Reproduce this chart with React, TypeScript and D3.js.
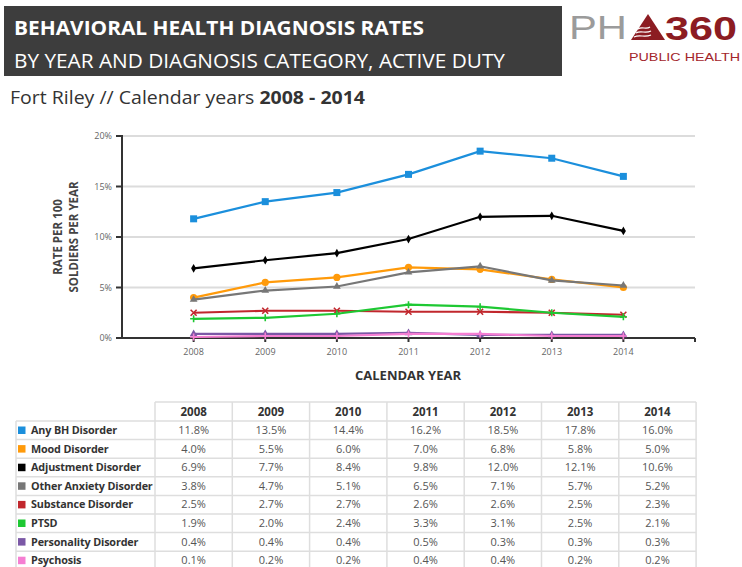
import * as d3 from 'd3';

const years = [2008, 2009, 2010, 2011, 2012, 2013, 2014];
const categories = [
  'Any BH Disorder',
  'Mood Disorder',
  'Adjustment Disorder',
  'Other Anxiety Disorder',
  'Substance Disorder',
  'PTSD',
  'Personality Disorder',
  'Psychosis',
];
const anyBH = [11.8, 13.5, 14.4, 16.2, 18.5, 17.8, 16.0];
const mood = [4.0, 5.5, 6.0, 7.0, 6.8, 5.8, 5.0];
const adjustment = [6.9, 7.7, 8.4, 9.8, 12.0, 12.1, 10.6];
const otherAnxiety = [3.8, 4.7, 5.1, 6.5, 7.1, 5.7, 5.2];
const substance = [2.5, 2.7, 2.7, 2.6, 2.6, 2.5, 2.3];
const ptsd = [1.9, 2.0, 2.4, 3.3, 3.1, 2.5, 2.1];
const personality = [0.4, 0.4, 0.4, 0.5, 0.3, 0.3, 0.3];
const psychosis = [0.1, 0.2, 0.2, 0.4, 0.4, 0.2, 0.2];
const yTicks = [0, 5, 10, 15, 20];

const seriesValues = [anyBH, mood, adjustment, otherAnxiety, substance, ptsd, personality, psychosis];
const colors = ['#1b8fdc', '#ff9a0a', '#000000', '#777777', '#c1272d', '#1ec833', '#7b58a6', '#f57ed2'];
const markers = ['square', 'circle', 'diamond', 'triangle', 'cross', 'plus', 'triangle', 'plus'];

const FONT = '"Open Sans", "Noto Sans", sans-serif';
const LOGO_FONT = '"Liberation Sans", Arial, sans-serif';

// chart area
const left = 122;
const right = 695;
const top = 136;
const bottom = 338;

const x = d3.scaleLinear().domain([2007, 2015]).range([left, right]);
const y = d3.scaleLinear().domain([0, 20]).range([bottom, top]);

function Marker({ kind, cx, cy, color }: { kind: string; cx: number; cy: number; color: string }) {
  if (kind === 'square') return <rect x={cx - 3.5} y={cy - 3.5} width={7} height={7} fill={color} />;
  if (kind === 'circle') return <circle cx={cx} cy={cy} r={3.6} fill={color} />;
  if (kind === 'diamond')
    return <path d={d3.symbol(d3.symbolDiamond, 22)()!} transform={`translate(${cx},${cy})`} fill={color} />;
  if (kind === 'triangle')
    return <path d={d3.symbol(d3.symbolTriangle, 26)()!} transform={`translate(${cx},${cy})`} fill={color} />;
  if (kind === 'cross')
    return (
      <path
        d={`M${cx - 3},${cy - 3}L${cx + 3},${cy + 3}M${cx - 3},${cy + 3}L${cx + 3},${cy - 3}`}
        stroke={color}
        strokeWidth={1.6}
      />
    );
  return (
    <path d={`M${cx - 3.5},${cy}L${cx + 3.5},${cy}M${cx},${cy - 3.5}L${cx},${cy + 3.5}`} stroke={color} strokeWidth={1.6} />
  );
}

function Chart() {
  const line = d3
    .line<number>()
    .x((_, i) => x(years[i]))
    .y((d) => y(d));

  return (
    <g>
      {/* gridlines */}
      {yTicks.map((t) => (
        <line key={t} x1={left} x2={right} y1={y(t)} y2={y(t)} stroke="#dcdcdc" strokeWidth={2} />
      ))}
      {/* y axis */}
      <line x1={left} x2={left} y1={top - 1} y2={bottom + 1} stroke="#333" strokeWidth={2} />
      {yTicks.map((t) => (
        <g key={t}>
          <line x1={left - 6} x2={left} y1={y(t)} y2={y(t)} stroke="#333" strokeWidth={2} />
          <text x={left - 10} y={y(t) + 3} textAnchor="end" fontSize={9} fill="#666" fontFamily={FONT}>
            {t}%
          </text>
        </g>
      ))}
      {/* x axis */}
      <line x1={left} x2={right} y1={bottom} y2={bottom} stroke="#333" strokeWidth={2} />
      {years.map((yr) => (
        <g key={yr}>
          <line x1={x(yr)} x2={x(yr)} y1={bottom} y2={bottom + 4} stroke="#333" strokeWidth={2} />
          <text x={x(yr)} y={bottom + 17} textAnchor="middle" fontSize={9} fill="#666" fontFamily={FONT}>
            {yr}
          </text>
        </g>
      ))}
      <line x1={right} x2={right} y1={bottom} y2={bottom + 4} stroke="#333" strokeWidth={2} />

      {/* axis titles */}
      <text
        transform={`translate(62,237) rotate(-90)`}
        textAnchor="middle"
        fontSize={11.5}
        fontWeight={700}
        fill="#444"
        fontFamily={FONT}
      >
        <tspan x={0} dy={0}>RATE PER 100</tspan>
        <tspan x={0} dy={16}>SOLDIERS PER YEAR</tspan>
      </text>
      <text x={408} y={380} textAnchor="middle" fontSize={13} fontWeight={700} fill="#333" fontFamily={FONT}>
        CALENDAR YEAR
      </text>

      {/* series */}
      {seriesValues.map((vals, si) => (
        <g key={si}>
          <path d={line(vals)!} fill="none" stroke={colors[si]} strokeWidth={2.2} />
          {vals.map((v, i) => (
            <Marker key={i} kind={markers[si]} cx={x(years[i])} cy={y(v)} color={colors[si]} />
          ))}
        </g>
      ))}
    </g>
  );
}

function Table() {
  const colEdges = d3.range(years.length + 1).map((i) => 155 + i * 77.3);
  const headTop = 402;
  const headBottom = 421;
  const rowH = 18.6;
  const rowY = (i: number) => headBottom + i * rowH;
  const tableBottom = rowY(categories.length);
  const grid = '#dedede';

  return (
    <g fontFamily={FONT}>
      {/* header cells */}
      <line x1={colEdges[0]} x2={colEdges[colEdges.length - 1]} y1={headTop} y2={headTop} stroke={grid} strokeWidth={1.5} />
      {colEdges.map((cx, i) => (
        <line key={i} x1={cx} x2={cx} y1={headTop} y2={tableBottom} stroke={grid} strokeWidth={1.5} />
      ))}
      <line x1={16} x2={16} y1={headBottom} y2={tableBottom} stroke={grid} strokeWidth={1.5} />
      {d3.range(categories.length + 1).map((i) => (
        <line key={i} x1={16} x2={colEdges[colEdges.length - 1]} y1={rowY(i)} y2={rowY(i)} stroke={grid} strokeWidth={1.5} />
      ))}
      {years.map((yr, i) => (
        <text
          key={yr}
          x={(colEdges[i] + colEdges[i + 1]) / 2}
          y={headTop + 13.5}
          textAnchor="middle"
          fontSize={11.5}
          fontWeight={700}
          fill="#333"
        >
          {yr}
        </text>
      ))}
      {categories.map((c, ri) => (
        <g key={c}>
          <rect x={18} y={rowY(ri) + 5.5} width={7.5} height={7.5} fill={colors[ri]} />
          <text x={31} y={rowY(ri) + 13} fontSize={10.8} fontWeight={700} fill="#333" letterSpacing={-0.15}>
            {c}
          </text>
          {seriesValues[ri].map((v, ci) => (
            <text
              key={ci}
              x={(colEdges[ci] + colEdges[ci + 1]) / 2}
              y={rowY(ri) + 13}
              textAnchor="middle"
              fontSize={11}
              fill="#555"
            >
              {v.toFixed(1)}%
            </text>
          ))}
        </g>
      ))}
    </g>
  );
}

function Header() {
  return (
    <g fontFamily={FONT}>
      <rect x={4} y={6} width={558} height={70} fill="#3d3d3d" />
      <text x={14} y={35} fontSize={20} fontWeight={700} fill="#fff" textLength={410} lengthAdjust="spacingAndGlyphs">
        BEHAVIORAL HEALTH DIAGNOSIS RATES
      </text>
      <text x={14} y={68} fontSize={20} fill="#fff" textLength={491} lengthAdjust="spacingAndGlyphs">
        BY YEAR AND DIAGNOSIS CATEGORY, ACTIVE DUTY
      </text>
      <text x={10} y={104} fontSize={18} fill="#333" textLength={355} lengthAdjust="spacingAndGlyphs">
        Fort Riley // Calendar years <tspan fontWeight={700}>2008 - 2014</tspan>
      </text>

      {/* logo */}
      <text x={569} y={39} fontSize={33} fill="#9b9b9b" fontFamily={LOGO_FONT} textLength={58} lengthAdjust="spacingAndGlyphs">
        PH
      </text>
      <path d="M648,14 L665,40 L631,40 Z" fill="#8c1c22" />
      <path
        d="M634,37 C640,34 644,38 651,35 M636,33 C641,30 645,34 651,31 M638,29 C642,26 646,30 650,27"
        stroke="#fff"
        strokeWidth={1.2}
        fill="none"
      />
      <text x={665} y={40} fontSize={34} fontWeight={700} fill="#8c1c22" fontFamily={LOGO_FONT} textLength={72} lengthAdjust="spacingAndGlyphs">
        360
      </text>
      <text x={629} y={61} fontSize={11} fill="#a3252b" fontFamily={LOGO_FONT} textLength={111} lengthAdjust="spacingAndGlyphs">
        PUBLIC HEALTH
      </text>
    </g>
  );
}

export default function App() {
  return (
    <svg
      width={742}
      height={567}
      style={{ position: 'absolute', left: 0, top: 0, background: '#fff' }}
    >
      <Header />
      <Chart />
      <Table />
    </svg>
  );
}
